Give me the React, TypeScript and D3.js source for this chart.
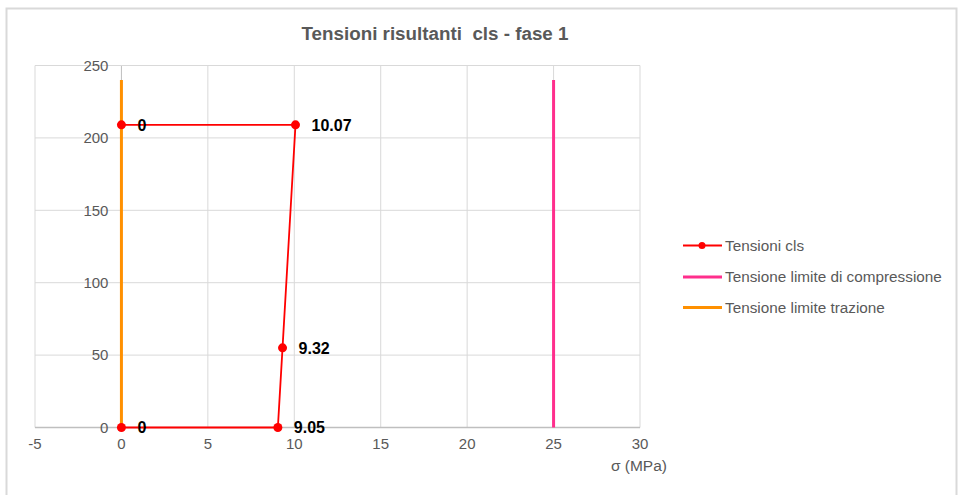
import React from "react";
import * as d3 from "d3";

const title = "Tensioni risultanti  cls - fase 1";
const xAxisTitle = "σ (MPa)";
const xTicks = [-5, 0, 5, 10, 15, 20, 25, 30];
const yTicks = [0, 50, 100, 150, 200, 250];

const clsSigma = [0, 10.07, 9.32, 9.05, 0];
const clsY = [209, 209, 55, 0, 0];
const clsLabels = ["0", "10.07", "9.32", "9.05", "0"];

const compSigma = [25, 25];
const compY = [0, 240];
const trazSigma = [0, 0];
const trazY = [0, 240];

const legendNames = ["Tensioni cls", "Tensione limite di compressione", "Tensione limite trazione"];
const colors = { cls: "#FF0000", comp: "#FF2E8C", traz: "#FF9000" };

export default function App() {
  const W = 958, H = 495;
  const x = d3.scaleLinear().domain([-5, 30]).range([35, 640]);
  const y = d3.scaleLinear().domain([0, 250]).range([427.5, 65.5]);
  const line = d3.line<[number, number]>().x(d => x(d[0])).y(d => y(d[1]));
  const cls: [number, number][] = clsSigma.map((s, i) => [s, clsY[i]]);
  const comp: [number, number][] = compSigma.map((s, i) => [s, compY[i]]);
  const traz: [number, number][] = trazSigma.map((s, i) => [s, trazY[i]]);
  const font = "'Liberation Sans', Arial, sans-serif";
  const gray = "#595959";
  const legendColors = [colors.cls, colors.comp, colors.traz];
  const legendY = [245.5, 277, 307.5];
  return (
    <svg width={W} height={H} style={{ position: "absolute", left: 0, top: 0, background: "#fff" }} fontFamily={font}>
      <rect x={0} y={0} width={W} height={H} fill="#fff" />
      <rect x={6.5} y={8.5} width={950} height={520} fill="none" stroke="#d9d9d9" strokeWidth={2} />
      <text x={435} y={40} textAnchor="middle" fontSize={18} fontWeight="bold" fill={gray} textLength={267} lengthAdjust="spacingAndGlyphs" style={{ whiteSpace: "pre" }}>{title}</text>
      {/* gridlines */}
      {xTicks.map(t => (
        <line key={"gx" + t} x1={x(t)} x2={x(t)} y1={y(250)} y2={y(0)} stroke={t === 0 ? "#bfbfbf" : "#d9d9d9"} strokeWidth={1} />
      ))}
      {yTicks.map(t => (
        <line key={"gy" + t} x1={x(-5)} x2={x(30)} y1={y(t)} y2={y(t)} stroke={t === 0 ? "#bfbfbf" : "#d9d9d9"} strokeWidth={t === 0 ? 1.5 : 1} />
      ))}
      {/* tick labels */}
      {yTicks.map(t => (
        <text key={"ly" + t} x={x(0) - 13} y={y(t)} dy="0.35em" textAnchor="end" fontSize={15} fill={gray}>{t}</text>
      ))}
      {xTicks.map(t => (
        <text key={"lx" + t} x={x(t)} y={y(0) + 16} dy="0.35em" textAnchor="middle" fontSize={15} fill={gray}>{t}</text>
      ))}
      <text x={667} y={466} dy="0.35em" textAnchor="end" fontSize={15.5} fill={gray}>{xAxisTitle}</text>
      {/* series */}
      <path d={line(comp) || ""} stroke={colors.comp} strokeWidth={3} fill="none" />
      <path d={line(traz) || ""} stroke={colors.traz} strokeWidth={3} fill="none" />
      <path d={line(cls) || ""} stroke={colors.cls} strokeWidth={1.8} fill="none" />
      {cls.map((d, i) => (
        <circle key={"p" + i} cx={x(d[0])} cy={y(d[1])} r={4.5} fill={colors.cls} />
      ))}
      {cls.map((d, i) => (
        <text key={"t" + i} x={x(d[0]) + 16} y={y(d[1])} dy="0.36em" fontSize={16} fontWeight="bold" fill="#000">{clsLabels[i]}</text>
      ))}
      {/* legend */}
      {legendNames.map((n, i) => (
        <g key={"lg" + i}>
          <line x1={683} x2={722} y1={legendY[i]} y2={legendY[i]} stroke={legendColors[i]} strokeWidth={i === 0 ? 1.8 : 3} />
          {i === 0 && <circle cx={702} cy={legendY[i]} r={3.5} fill={colors.cls} />}
          <text x={725} y={legendY[i]} dy="0.35em" fontSize={15.3} fill={gray}>{n}</text>
        </g>
      ))}
    </svg>
  );
}
